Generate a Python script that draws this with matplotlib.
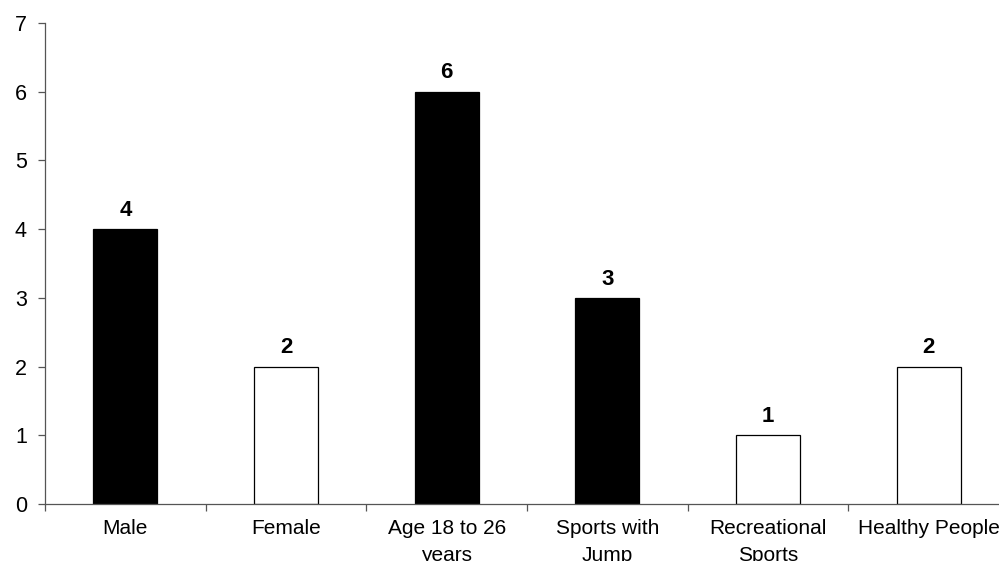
import matplotlib
matplotlib.use("Agg")
import matplotlib.pyplot as plt
import numpy as np

categories = ["Male", "Female", "Age 18 to 26\nyears", "Sports with\nJump",
              "Recreational\nSports", "Healthy People"]
values = [4, 2, 6, 3, 1, 2]
fills = ["black", "white", "black", "black", "white", "white"]

plt.rcParams["font.family"] = ["Liberation Sans", "DejaVu Sans"]

fig = plt.figure(figsize=(9.99, 5.61), dpi=100)
ax = fig.add_axes([45 / 999, 57 / 561, 964 / 999, 481 / 561])

x = np.arange(len(categories))
bars = ax.bar(x, values, width=0.4, color=fills, edgecolor="black", linewidth=0.9, zorder=2)

for xi, v in zip(x, values):
    ax.annotate(str(v), (xi, v), xytext=(0, 6), textcoords="offset points",
                ha="center", va="bottom", fontsize=16, fontweight="bold")

ax.set_xlim(-0.5, len(categories) - 0.5)
ax.set_ylim(0, 7)
ax.set_yticks(range(0, 8))

ax.set_xticks(x)
ax.set_xticklabels(categories, fontsize=15, linespacing=1.5, va="top")
ax.set_xticks(np.arange(-0.5, len(categories), 1.0), minor=True)
ax.tick_params(axis="x", which="major", length=0, pad=11)
ax.tick_params(axis="x", which="minor", length=5, width=0.9, color="#555555", direction="out")
ax.tick_params(axis="y", length=5, width=0.9, color="#555555", labelsize=15.5, pad=8)

for side in ("top", "right"):
    ax.spines[side].set_visible(False)
for side in ("left", "bottom"):
    ax.spines[side].set_color("#555555")
    ax.spines[side].set_linewidth(0.9)

fig.savefig("out.png", dpi=100)
